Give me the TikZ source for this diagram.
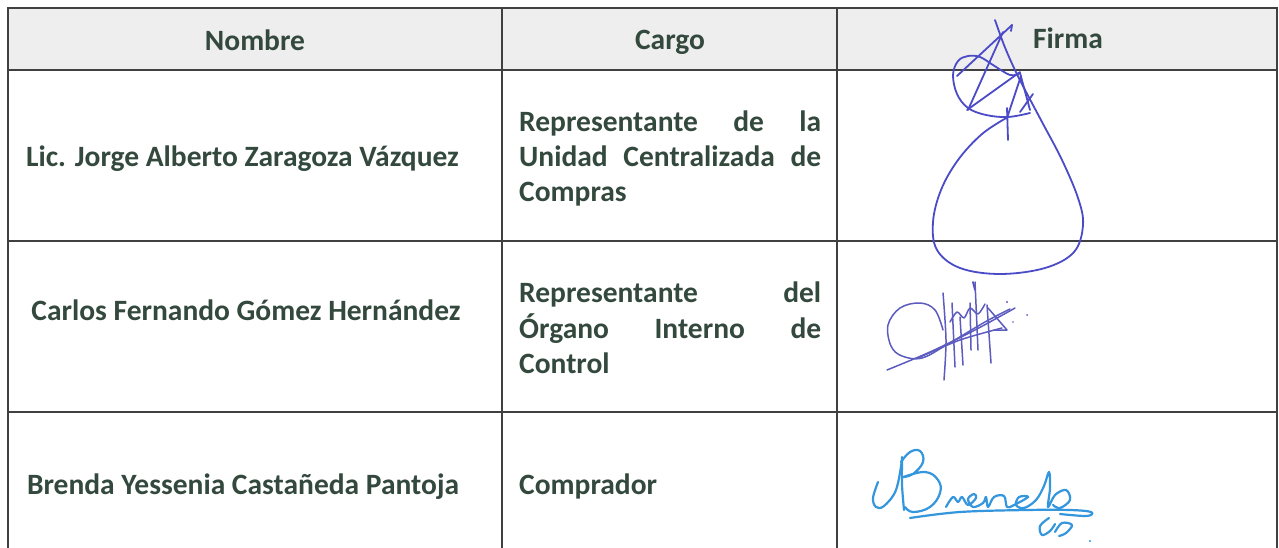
\documentclass[tikz,border=0pt]{standalone}
\usepackage{fontspec}
\setmainfont{Carlito}
\definecolor{txt}{HTML}{34493D}
\definecolor{grid}{HTML}{404040}
\definecolor{hdr}{HTML}{EEEEEE}
\definecolor{sigA}{HTML}{4B4BC8}
\definecolor{sigB}{HTML}{5C5CC0}
\definecolor{sigC}{HTML}{3496DC}
\tikzset{
  cell/.style={font=\fontsize{29.5}{35}\selectfont\bfseries, text=txt, inner sep=0pt},
  gridline/.style={draw=grid, line width=1.3pt},
  sigpen/.style={line width=1.8pt, line cap=round, line join=round},
}
\begin{document}
\begin{tikzpicture}[x=1pt,y=-1pt]
\useasboundingbox[fill=white] (0,0) rectangle (1279,548);
% header background
\fill[hdr] (8,8) rectangle (1277,70);
% grid
\draw[gridline] (8,548) -- (8,8) -- (1277,8) -- (1277,548);
\draw[gridline] (8,70) -- (1277,70);
\draw[gridline] (8,241) -- (1277,241);
\draw[gridline] (8,412) -- (1277,412);
\draw[gridline] (502,8) -- (502,548);
\draw[gridline] (837,8) -- (837,548);
% header
\node[cell, anchor=base] (hN) at (255,51) {Nombre};
\node[cell, anchor=base] (hC) at (670,50) {Cargo};
\node[cell, anchor=base] (hF) at (1068,49) {Firma};
% row 1
\node[cell, anchor=base] (n1) at (242.5,167) {Lic. Jorge Alberto Zaragoza Vázquez};
\node[cell, anchor=base west] (c1a) at (519,132) {\makebox[302pt][s]{Representante de la}};
\node[cell, anchor=base west] (c1b) at (519,167) {\makebox[302pt][s]{Unidad Centralizada de}};
\node[cell, anchor=base west] (c1c) at (519,202) {Compras};
% row 2
\node[cell, anchor=base] (n2) at (246,320) {Carlos Fernando Gómez Hernández};
\node[cell, anchor=base west] (c2a) at (519,302) {\makebox[302pt][s]{Representante del}};
\node[cell, anchor=base west] (c2b) at (519,338) {\makebox[302pt][s]{Órgano Interno de}};
\node[cell, anchor=base west] (c2c) at (519,373) {Control};
% row 3
\node[cell, anchor=base] (n3) at (243,494) {Brenda Yessenia Castañeda Pantoja};
\node[cell, anchor=base west] (c3) at (519,494) {Comprador};
% signature 1
\begin{scope}[sigpen, draw=sigA]
\draw plot[smooth, tension=0.6] coordinates {(995,20) (1004,45) (1014,68) (1024,88) (1042,122) (1062,160) (1078,198) (1083,225) (1074,252) (1045,268) (1000,274) (960,268) (937,250) (933,222) (941,190) (958,160) (982,134) (1008,117)};
\draw plot[smooth, tension=0.6] coordinates {(1030,113) (1008,117) (986,115) (968,108) (957,94) (953,75) (958,61) (968,56) (980,57) (993,65) (1010,75) (1020,73)};
\draw (1012,25) -- (957,76);
\draw (1012,25) -- (1011,31);
\draw (968,110) -- (1003,32);
\draw (967,110) -- (1020,72);
\draw (1020,73) -- (1030,110);
\draw (1007,108) -- (1008,140);
\draw (1021,76) -- (1007,118);
\draw (1020,112) -- (1033,94);
\draw (973,282) -- (975,290);
\end{scope}
% signature 2
\begin{scope}[sigpen, draw=sigB, line width=1.5pt]
\draw plot[smooth, tension=0.6] coordinates {(943,330) (935,310) (920,303) (900,308) (888,325) (891,346) (902,356) (922,358) (948,344) (985,322) (1010,309)};
\draw plot[smooth, tension=0.5] coordinates {(887,370) (930,352) (975,330) (1015,308)};
\draw plot[smooth, tension=0.5] coordinates {(918,358) (960,340) (1002,328)};
\draw (988,308) -- (1007,330) -- (994,330);
\draw plot[smooth] coordinates {(943,293) (946,340) (944,380)};
\draw (952,303) -- (955,367);
\draw (960,317) -- (963,365);
\draw (970,303) -- (971,350);
\draw (975,282) -- (978,350);
\draw (987,305) -- (991,363);
\draw plot[smooth] coordinates {(950,322) (957,312) (964,318) (970,308) (978,314) (985,304)};
\fill[sigB] (1007,302) circle (1.2) (1027,315) circle (1) (1013,322) circle (0.8);
\end{scope}
% signature 3
\begin{scope}[sigpen, draw=sigC, line width=2.2pt]
\draw plot[smooth, tension=0.6] coordinates {(878,482) (873,498) (876,507) (884,506) (896,490) (902,460)};
\draw plot[smooth, tension=0.5] coordinates {(902,457) (902,485) (904,510)};
\draw plot[smooth, tension=0.7] coordinates {(901,462) (910,452) (920,451) (923,462) (913,474) (903,477) (925,472) (938,480) (940,493) (930,507) (913,512) (905,507)};
\draw plot[smooth, tension=0.6] coordinates {(946,507) (953,497) (958,502) (962,497) (968,505) (976,498) (974,494) (968,499) (973,507) (983,503) (986,497) (988,507) (994,497) (1004,496) (1007,507) (1014,505) (1028,497) (1019,497) (1016,505) (1024,508) (1036,500) (1044,486) (1049,472) (1050,488) (1048,507) (1055,495) (1066,490) (1070,500) (1060,508) (1053,505)};
\draw plot[smooth, tension=0.6] coordinates {(910,518) (960,512) (1027,510) (1070,510) (1091,512) (1087,516) (1060,514)};
\draw plot[smooth, tension=0.6] coordinates {(1049,518) (1040,526) (1042,535) (1050,531) (1055,524)};
\draw plot[smooth, tension=0.6] coordinates {(1055,532) (1062,523) (1072,525) (1066,533) (1059,536)};
\fill[sigC] (1090,541) circle (1.1);
\end{scope}
\end{tikzpicture}
\end{document}
